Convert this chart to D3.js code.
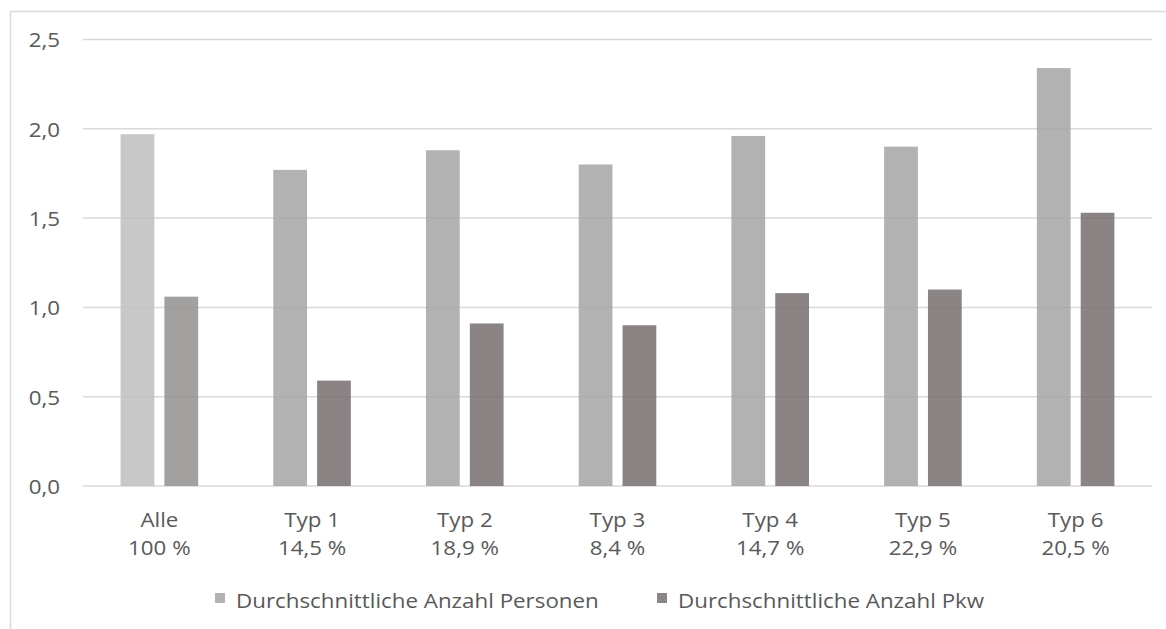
<!DOCTYPE html>
<html>
<head>
<meta charset="utf-8">
<script src="https://cdn.jsdelivr.net/npm/d3@7"></script>
<style>
  html, body { margin: 0; padding: 0; background: #fff; }
  svg { display: block; }
  text { font-family: "Open Sans", "Noto Sans", sans-serif; fill: #595959; }
</style>
</head>
<body>
<svg id="chart" width="1166" height="629"></svg>
<script>
// ---- data ----
const categories = ["Alle", "Typ 1", "Typ 2", "Typ 3", "Typ 4", "Typ 5", "Typ 6"];
const shares = ["100 %", "14,5 %", "18,9 %", "8,4 %", "14,7 %", "22,9 %", "20,5 %"];
const seriesNames = ["Durchschnittliche Anzahl Personen", "Durchschnittliche Anzahl Pkw"];
const personen = [1.97, 1.77, 1.88, 1.80, 1.96, 1.90, 2.34];
const pkw = [1.06, 0.59, 0.91, 0.90, 1.08, 1.10, 1.53];
const yTicks = [0, 0.5, 1.0, 1.5, 2.0, 2.5];

// ---- style ----
const seriesColors = ["#a4a4a4", "#75706f"];     // regular categories
const totalColors = ["#bebebe", "#93908f"];      // the "Alle" total
const legendColors = ["#b2b2b2", "#8a8685"];
const barOpacity = 0.85;
const textScaleX = 1.09;
const fontSize = 20.5;

const svg = d3.select("#chart");
const plot = { left: 83, right: 1152, top: 39.5, bottom: 486 };

// outer chart border (extends beyond the picture on the right/bottom)
svg.append("rect")
  .attr("x", 10.5).attr("y", 11.5)
  .attr("width", 1300).attr("height", 800)
  .attr("fill", "none").attr("stroke", "#d9d9d9").attr("stroke-width", 1.5);

const x0 = d3.scaleBand().domain(categories).range([plot.left, plot.right]).padding(0);
const groupWidth = x0.bandwidth() * 0.508;
const x1 = d3.scaleBand().domain(seriesNames).range([-groupWidth / 2, groupWidth / 2]).paddingInner(0.23);
const y = d3.scaleLinear().domain([0, 2.5]).range([plot.bottom, plot.top]);

// gridlines
svg.append("g").selectAll("line").data(yTicks).join("line")
  .attr("x1", plot.left).attr("x2", plot.right)
  .attr("y1", d => y(d)).attr("y2", d => y(d))
  .attr("stroke", "#d9d9d9").attr("stroke-width", 1.5);

// y axis labels via d3 axis
const yAxis = d3.axisLeft(y).tickValues(yTicks).tickSize(0).tickPadding(0)
  .tickFormat(d => d3.format(".1f")(d).replace(".", ","));
const yg = svg.append("g").attr("transform", `translate(60,0)`).call(yAxis);
yg.select(".domain").remove();
yg.selectAll("text")
  .attr("font-size", fontSize).attr("dy", "0.36em")
  .style("font-family", '"Open Sans", sans-serif').style("fill", "#595959")
  .style("transform-box", "fill-box").style("transform-origin", "right center")
  .style("transform", `scaleX(${textScaleX})`);

// bars
const rows = categories.map((c, i) => ({ cat: c, i, vals: [personen[i], pkw[i]] }));
const groups = svg.append("g").selectAll("g").data(rows).join("g")
  .attr("transform", d => `translate(${x0(d.cat) + x0.bandwidth() / 2},0)`);
groups.selectAll("rect").data(d => d.vals.map((v, s) => ({ v, s, i: d.i }))).join("rect")
  .attr("x", d => x1(seriesNames[d.s]))
  .attr("width", x1.bandwidth())
  .attr("y", d => y(d.v))
  .attr("height", d => y(0) - y(d.v))
  .attr("fill", d => (d.i === 0 ? totalColors : seriesColors)[d.s])
  .attr("fill-opacity", barOpacity);

// x axis labels (two lines)
const xg = svg.append("g");
const xl = xg.selectAll("text").data(rows).join("text")
  .attr("text-anchor", "middle")
  .attr("font-size", fontSize)
  .attr("transform", d => `translate(${x0(d.cat) + x0.bandwidth() / 2},0) scale(${textScaleX},1)`);
xl.append("tspan").attr("x", 0).attr("y", 527).text(d => d.cat);
xl.append("tspan").attr("x", 0).attr("y", 555).text(d => shares[d.i]);

// legend
const legendX = [215, 657];
const lg = svg.append("g").selectAll("g").data(seriesNames).join("g")
  .attr("transform", (d, i) => `translate(${legendX[i]},0)`);
lg.append("rect").attr("x", 0).attr("y", 593).attr("width", 10).attr("height", 10)
  .attr("fill", (d, i) => legendColors[i]);
lg.append("text").attr("x", 0).attr("y", 0).attr("font-size", fontSize)
  .attr("transform", `translate(21,608) scale(${textScaleX},1)`)
  .text(d => d);
</script>
</body>
</html>
